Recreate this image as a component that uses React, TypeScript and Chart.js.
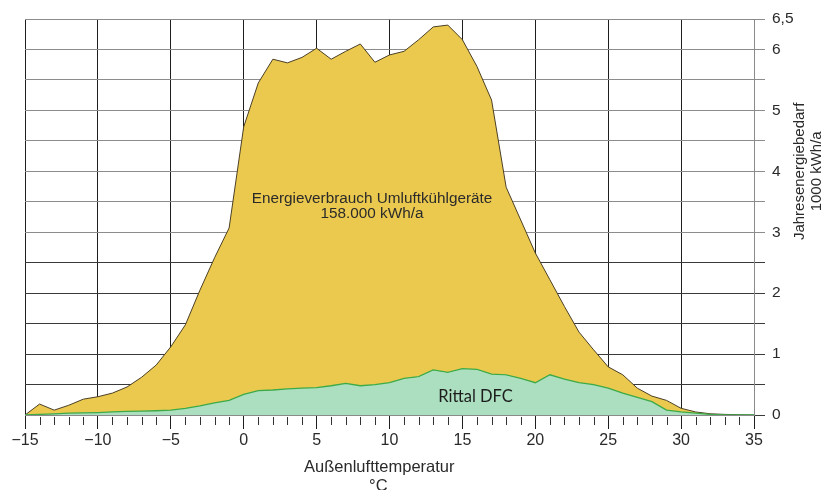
import React, { useEffect, useRef } from "react";
import { Chart, registerables } from "chart.js";

Chart.register(...registerables);

// Außenlufttemperatur in °C
const temperatures = [
  -15, -14, -13, -12, -11, -10, -9, -8, -7, -6, -5, -4, -3, -2, -1, 0, 1, 2, 3, 4, 5, 6, 7, 8, 9, 10,
  11, 12, 13, 14, 15, 16, 17, 18, 19, 20, 21, 22, 23, 24, 25, 26, 27, 28, 29, 30, 31, 32, 33, 34, 35,
];

// Energieverbrauch Umluftkühlgeräte (1000 kWh/a)
const umluftValues = [
  0, 0.18, 0.08, 0.16, 0.26, 0.3, 0.36, 0.46, 0.62, 0.82, 1.12, 1.48, 2.05, 2.58, 3.07, 4.73, 5.45, 5.84,
  5.78, 5.87, 6.02, 5.84, 5.97, 6.09, 5.79, 5.91, 5.97, 6.16, 6.37, 6.4, 6.16, 5.72, 5.17, 3.74, 3.2, 2.66,
  2.22, 1.78, 1.36, 1.07, 0.79, 0.66, 0.44, 0.31, 0.24, 0.11, 0.05, 0.02, 0.01, 0.005, 0,
];

// Rittal DFC (1000 kWh/a)
const dfcValues = [
  0, 0.01, 0.02, 0.03, 0.035, 0.04, 0.05, 0.06, 0.065, 0.07, 0.08, 0.11, 0.15, 0.2, 0.24, 0.34, 0.4, 0.41,
  0.43, 0.44, 0.45, 0.48, 0.52, 0.48, 0.5, 0.53, 0.6, 0.63, 0.74, 0.7, 0.76, 0.75, 0.67, 0.66, 0.6, 0.53,
  0.66, 0.59, 0.53, 0.5, 0.44, 0.36, 0.29, 0.22, 0.08, 0.05, 0.03, 0.01, 0, 0, 0,
];

const xMajorTicks = [-15, -10, -5, 0, 5, 10, 15, 20, 25, 30, 35];
const yLabelTicks = [0, 1, 2, 3, 4, 5, 6, 6.5];

const energyLabel = ["Energieverbrauch Umluftkühlgeräte", "158.000 kWh/a"];
const dfcLabel = "Rittal DFC";
const xTitle = ["Außenlufttemperatur", "°C"];
const yTitle = ["Jahresenergiebedarf", "1000 kWh/a"];

const YELLOW = "#ebc94e";
const GREEN_FILL = "#abdfbf";
const GREEN_LINE = "#3caa48";
const FONT = '"Liberation Sans", Arial, sans-serif';

const overlayPlugin = {
  id: "overlay",
  afterDraw(chart: any) {
    const { ctx, chartArea } = chart;
    const x = chart.scales.x;
    const y = chart.scales.y;
    ctx.save();

    // yellow label background (hides grid lines behind label)
    const ex0 = x.getPixelForValue(0.09);
    const ex1 = x.getPixelForValue(17.44);
    const ey0 = y.getPixelForValue(3.89);
    const ey1 = y.getPixelForValue(3.12);
    ctx.fillStyle = YELLOW;
    ctx.fillRect(ex0, ey0, ex1 - ex0, ey1 - ey0);

    // green label background, clipped to green area
    const meta = chart.getDatasetMeta(0);
    const pts = meta.data;
    ctx.save();
    ctx.beginPath();
    pts.forEach((p: any, i: number) => {
      if (i === 0) ctx.moveTo(p.x, p.y + 1);
      else ctx.lineTo(p.x, p.y + 1);
    });
    ctx.lineTo(pts[pts.length - 1].x, chartArea.bottom - 1);
    ctx.lineTo(pts[0].x, chartArea.bottom - 1);
    ctx.closePath();
    ctx.clip();
    const gx0 = x.getPixelForValue(10.86);
    const gx1 = x.getPixelForValue(19.91);
    const gy0 = y.getPixelForValue(0.75);
    ctx.fillStyle = GREEN_FILL;
    ctx.fillRect(gx0, gy0, gx1 - gx0, chartArea.bottom - 1 - gy0);
    ctx.restore();

    // minor ticks
    ctx.strokeStyle = "#333";
    ctx.lineWidth = 1;
    temperatures.forEach((t) => {
      if (t % 5 === 0) return;
      const px = Math.round(x.getPixelForValue(t)) + 0.5;
      ctx.beginPath();
      ctx.moveTo(px, chartArea.bottom + 2);
      ctx.lineTo(px, chartArea.bottom + 10);
      ctx.stroke();
    });

    // energy label
    ctx.fillStyle = "#2a2a2a";
    ctx.font = `15.3px ${FONT}`;
    ctx.textAlign = "center";
    ctx.textBaseline = "alphabetic";
    const ecx = x.getPixelForValue(8.8);
    ctx.fillText(energyLabel[0], ecx, y.getPixelForValue(3.48));
    ctx.fillText(energyLabel[1], ecx, y.getPixelForValue(3.23));

    // DFC label
    ctx.fillStyle = "#1c1c1c";
    ctx.font = `16.5px Lato, "Open Sans", sans-serif`;
    ctx.fillText(dfcLabel, x.getPixelForValue(15.9), y.getPixelForValue(0.22));

    // x title
    ctx.fillStyle = "#2a2a2a";
    ctx.font = `16.5px ${FONT}`;
    const xtx = x.getPixelForValue(9.3);
    ctx.fillText(xTitle[0], xtx, chartArea.bottom + 57);
    ctx.fillText(xTitle[1], xtx - 1, chartArea.bottom + 76);

    // y title (rotated)
    ctx.font = `15px ${FONT}`;
    const ycy = y.getPixelForValue(4.0);
    [50, 67].forEach((off, i) => {
      ctx.save();
      ctx.translate(chartArea.right + off, ycy);
      ctx.rotate(-Math.PI / 2);
      ctx.fillText(yTitle[i], 0, 0);
      ctx.restore();
    });

    ctx.restore();
  },
};

export default function App() {
  const canvasRef = useRef<HTMLCanvasElement | null>(null);

  useEffect(() => {
    if (!canvasRef.current) return;
    const chart = new Chart(canvasRef.current, {
      type: "line",
      data: {
        datasets: [
          {
            label: "Rittal DFC",
            data: temperatures.map((t, i) => ({ x: t, y: dfcValues[i] })),
            borderColor: GREEN_LINE,
            borderWidth: 1.3,
            backgroundColor: GREEN_FILL,
            fill: "origin",
            pointRadius: 0,
            tension: 0,
          },
          {
            label: "Umluftkühlgeräte",
            data: temperatures.map((t, i) => ({ x: t, y: umluftValues[i] })),
            borderColor: "#4b3f25",
            borderWidth: 1,
            backgroundColor: YELLOW,
            fill: "origin",
            pointRadius: 0,
            tension: 0,
          },
        ],
      },
      options: {
        responsive: false,
        animation: false,
        events: [],
        layout: { padding: { left: 25, top: 19, right: 0, bottom: 0 } },
        plugins: { legend: { display: false }, tooltip: { enabled: false } },
        scales: {
          x: {
            type: "linear",
            min: -15,
            max: 35,
            z: 1,
            afterFit: (s: any) => {
              s.height = 75;
            },
            afterBuildTicks: (s: any) => {
              s.ticks = temperatures.map((v) => ({ value: v }));
            },
            border: { display: true, color: "#8a8a8a", width: 1 },
            grid: {
              color: (c: any) => (xMajorTicks.includes(c.tick?.value) ? "#1e1e1e" : "rgba(0,0,0,0)"),
              tickColor: (c: any) => (xMajorTicks.includes(c.tick?.value) ? "#1e1e1e" : "rgba(0,0,0,0)"),
              tickLength: 14,
              lineWidth: 1,
            },
            ticks: {
              autoSkip: false,
              maxRotation: 0,
              padding: 2,
              color: "#2a2a2a",
              font: { family: FONT, size: 16 },
              callback: (v: any) =>
                xMajorTicks.includes(Number(v)) ? (Number(v) < 0 ? "\u2212" + Math.abs(Number(v)) : String(v)) : "",
            },
          },
          y: {
            type: "linear",
            position: "right",
            min: 0,
            max: 6.5,
            z: 1,
            afterFit: (s: any) => {
              s.width = 72;
            },
            border: { display: true, color: "#8a8a8a", width: 1 },
            grid: {
              color: (c: any) => (c.tick && c.tick.value >= 3 ? "#8c8c8c" : "#3a3a3a"),
              tickColor: (c: any) => (c.tick && c.tick.value >= 3 ? "#8c8c8c" : "#3a3a3a"),
              tickLength: 11,
              lineWidth: 1,
            },
            ticks: {
              stepSize: 0.5,
              autoSkip: false,
              padding: 7,
              color: "#2a2a2a",
              font: { family: FONT, size: 15.5 },
              callback: (v: any) => (yLabelTicks.includes(Number(v)) ? String(v).replace(".", ",") : ""),
            },
          },
        },
      },
      plugins: [overlayPlugin],
    });
    return () => chart.destroy();
  }, []);

  return (
    <div style={{ position: "fixed", left: 0, top: 0, width: 826, height: 490, background: "#fff" }}>
      <canvas ref={canvasRef} width={826} height={490} style={{ display: "block" }} />
    </div>
  );
}
